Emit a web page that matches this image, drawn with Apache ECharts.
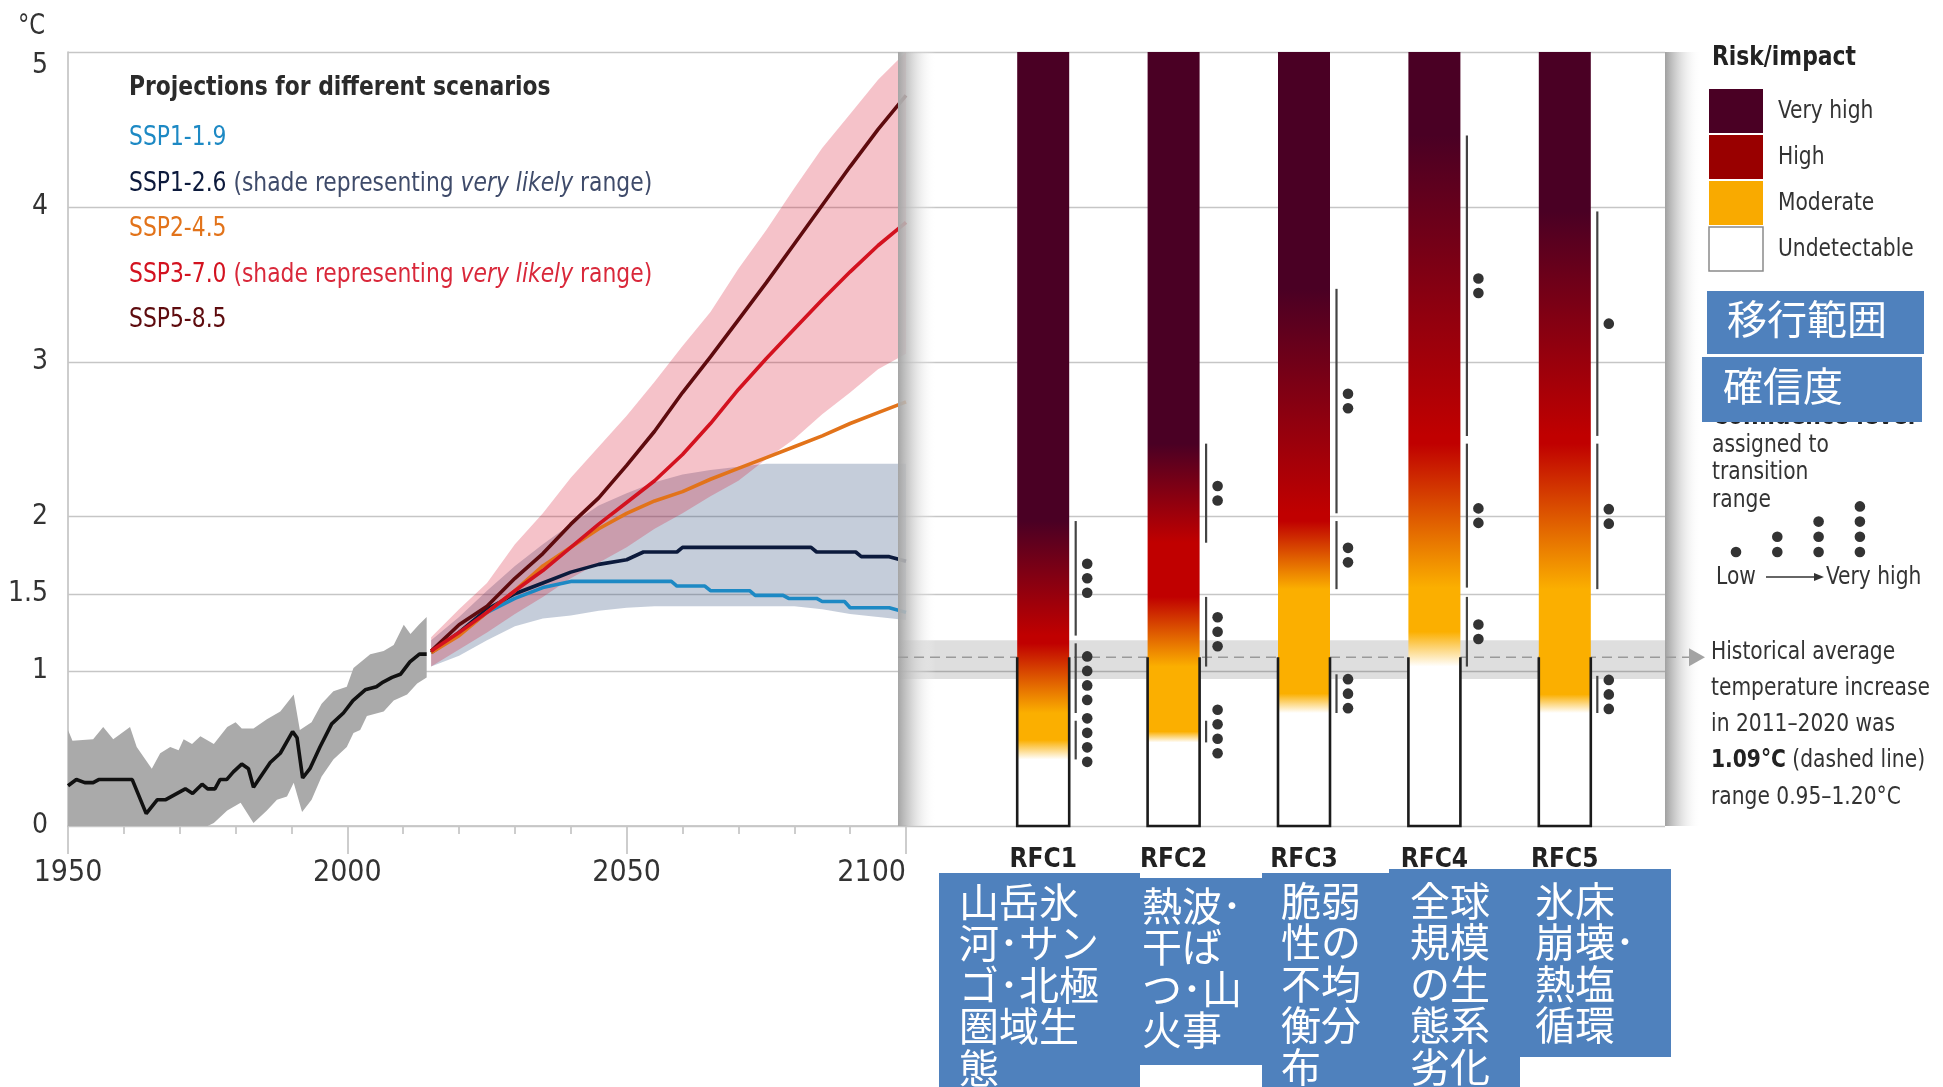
<!DOCTYPE html>
<html>
<head>
<meta charset="utf-8">
<script src="https://cdn.jsdelivr.net/npm/echarts@6/dist/echarts.min.js"></script>
<style>
  html, body { margin: 0; padding: 0; background: #ffffff; }
  #chart { width: 1943px; height: 1087px; }
</style>
</head>
<body>
<div id="chart"></div>
<script>
const FONT = "'Liberation Sans Narrow', 'DejaVu Sans Condensed', 'Roboto Condensed', Roboto, sans-serif";
const CJK = "'Noto Sans CJK JP', 'Noto Sans CJK SC', sans-serif";
const NARROW = 0.9; // horizontal squeeze for legend/annotation text

// ---- Observed global surface temperature change (°C), 1950–2014 ----
const histMean = [
  [1950,0.26],[1951.5,0.30],[1953,0.28],[1954.5,0.28],[1955.5,0.30],[1961.5,0.30],[1964,0.08],
  [1966,0.17],[1967.5,0.17],[1971,0.24],[1972.3,0.21],[1974,0.27],[1975,0.24],[1976.3,0.24],
  [1977.2,0.30],[1978.4,0.30],[1979.6,0.35],[1981.1,0.40],[1982.3,0.37],[1983.2,0.25],[1986.2,0.41],
  [1988,0.47],[1990.2,0.61],[1991,0.57],[1992,0.31],[1993.3,0.37],[1995.1,0.51],[1997.2,0.66],
  [1999.3,0.73],[2001,0.81],[2003.2,0.88],[2005.2,0.90],[2006.4,0.93],[2008,0.96],[2009.5,0.98],
  [2011.2,1.06],[2012.9,1.11],[2014.2,1.11]
];
const histHigh = [
  [1950,0.62],[1950.8,0.55],[1954.5,0.56],[1956.3,0.64],[1958.1,0.56],[1961.1,0.64],[1962.3,0.51],
  [1965,0.37],[1966.5,0.47],[1968.3,0.51],[1969.8,0.49],[1970.7,0.56],[1972.2,0.53],[1973.7,0.58],
  [1976.1,0.53],[1978.5,0.64],[1980,0.67],[1981.1,0.63],[1983.2,0.63],[1985.6,0.69],[1988,0.74],
  [1990.4,0.85],[1991.5,0.62],[1993.6,0.67],[1995.4,0.79],[1997.5,0.87],[1999.9,0.90],[2001.1,1.02],
  [2004.1,1.11],[2006.5,1.13],[2008.3,1.17],[2010.1,1.30],[2011.3,1.24],[2012.8,1.30],[2014.2,1.35]
];
const histLow = [
  [1950,0],[1975,0],[1976.1,0.02],[1978.5,0.10],[1980.9,0.15],[1983.2,0.02],[1985.6,0.10],
  [1987.4,0.17],[1989.2,0.19],[1990.4,0.28],[1991.9,0.09],[1993.6,0.17],[1995.4,0.32],[1997.5,0.43],
  [1999.9,0.51],[2001.1,0.60],[2002.3,0.62],[2003.5,0.71],[2006.5,0.74],[2008.3,0.81],[2010.7,0.85],
  [2012.5,0.92],[2014.2,0.96]
];

// ---- Scenario projections (°C), 2015–2100 ----
const projYears  = [2015,2020,2025,2030,2035,2040,2045,2050,2055,2060,2065,2070,2075,2080,2085,2090,2095,2100];
const ssp585     = [1.13,1.30,1.42,1.60,1.76,1.95,2.12,2.33,2.55,2.80,3.03,3.27,3.51,3.76,4.01,4.26,4.50,4.72];
const ssp370     = [1.13,1.25,1.38,1.52,1.65,1.80,1.95,2.09,2.23,2.40,2.60,2.82,3.02,3.21,3.40,3.58,3.75,3.90];
const ssp245     = [1.12,1.23,1.38,1.52,1.68,1.80,1.92,2.02,2.10,2.16,2.24,2.31,2.38,2.45,2.52,2.60,2.67,2.74];
const ssp370High = [1.22,1.40,1.57,1.82,2.02,2.25,2.45,2.65,2.87,3.10,3.32,3.60,3.85,4.12,4.38,4.60,4.82,5.00];
const ssp370Low  = [1.03,1.14,1.25,1.37,1.48,1.60,1.70,1.80,1.92,2.02,2.13,2.23,2.37,2.50,2.66,2.80,2.95,3.05];
const ssp126High = [1.20,1.35,1.52,1.68,1.82,1.95,2.07,2.15,2.22,2.27,2.30,2.32,2.34,2.34,2.34,2.34,2.34,2.34];
const ssp126Low  = [1.03,1.10,1.20,1.29,1.34,1.36,1.39,1.41,1.42,1.42,1.42,1.42,1.42,1.42,1.40,1.37,1.35,1.33];
const ssp119 = [
  [2015,1.12],[2020,1.24],[2025,1.38],[2030,1.47],[2035,1.54],[2040,1.58],[2058,1.58],[2059,1.55],
  [2064,1.55],[2065,1.52],[2072,1.52],[2073,1.49],[2078,1.49],[2079,1.47],[2084,1.47],[2085,1.45],
  [2089,1.45],[2090,1.41],[2097,1.41],[2100,1.38]
];
const ssp126 = [
  [2015,1.12],[2020,1.25],[2025,1.40],[2030,1.50],[2035,1.57],[2040,1.64],[2045,1.69],[2050,1.72],
  [2053,1.77],[2059,1.77],[2060,1.80],[2083,1.80],[2084,1.77],[2091,1.77],[2092,1.74],[2097,1.74],[2100,1.71]
];

// ---- Axis ticks ----
const yTicks = [0, 1, 1.5, 2, 3, 4, 5];

// ---- Reasons for concern: transition ranges [from °C, to °C, confidence dots] ----
const rfcNames = ['RFC1', 'RFC2', 'RFC3', 'RFC4', 'RFC5'];
const rfcJa = [
  '山岳氷\n河･サン\nゴ･北極\n圏域生\n態',
  '熱波･\n干ば\nつ･山\n火事',
  '脆弱\n性の\n不均\n衡分\n布',
  '全球\n規模\nの生\n態系\n劣化',
  '氷床\n崩壊･\n熱塩\n循環'
];
const rfcTransitions = [
  [[0.43,0.68,4],[0.73,1.18,4],[1.23,1.97,3]],
  [[0.54,0.68,4],[1.03,1.48,3],[1.83,2.47,2]],
  [[0.73,0.98,3],[1.53,1.97,2],[2.02,3.47,2]],
  [[1.03,1.48,2],[1.54,2.47,2],[2.52,4.46,2]],
  [[0.73,0.97,3],[1.53,2.47,2],[2.52,3.97,1]]
];
const riskTop = 5;
const recentWarming = 1.09;
const recentRange = [0.95, 1.20];

// ---- Styles ----
const C_VH = '#4a0024', C_HI = '#c00000', C_MO = '#fbaf00';
const legendRisk = [
  ['Very high', '#4a0024'], ['High', '#990000'], ['Moderate', '#f9aa00'], ['Undetectable', '#ffffff']
];
const sspStyles = [
  { name: 'SSP1-1.9', color: '#1d89c4', note: '' },
  { name: 'SSP1-2.6', color: '#0c1a3c', note: 'slate' },
  { name: 'SSP2-4.5', color: '#e2731a', note: '' },
  { name: 'SSP3-7.0', color: '#d3121f', note: 'red' },
  { name: 'SSP5-8.5', color: '#5e0b0e', note: '' }
];

const pairs = (ys, vs) => ys.map((y, i) => [y, vs[i]]);

function bandSeries(upper, lower, fill, z) {
  return {
    type: 'custom', xAxisIndex: 0, yAxisIndex: 0, z: z, silent: true,
    data: [[2000, 0]],
    renderItem: function (params, api) {
      const pts = upper.map(p => api.coord(p)).concat(lower.slice().reverse().map(p => api.coord(p)));
      return { type: 'polygon', shape: { points: pts }, style: { fill: fill } };
    }
  };
}

function lineSeries(data, color, z) {
  return {
    type: 'line', xAxisIndex: 0, yAxisIndex: 0, z: z, silent: true,
    data: data, showSymbol: false, symbol: 'none',
    lineStyle: { color: color, width: 3.6 }
  };
}

const series = [
  // horizontal grid lines across both panels
  {
    type: 'custom', xAxisIndex: 2, yAxisIndex: 2, z: 1, silent: true,
    data: yTicks.map(v => [0.5, v]),
    renderItem: function (params, api) {
      const cs = params.coordSys;
      const y = Math.round(api.coord([0, api.value(1)])[1]) + 0.5;
      return { type: 'line', shape: { x1: cs.x, y1: y, x2: cs.x + cs.width, y2: y },
               style: { stroke: '#c6c6c6', lineWidth: 1.4 } };
    }
  },
  bandSeries(histHigh, histLow, '#aaaaaa', 2),
  bandSeries(pairs(projYears, ssp126High), pairs(projYears, ssp126Low), 'rgba(40,70,120,0.27)', 2),
  bandSeries(pairs(projYears, ssp370High), pairs(projYears, ssp370Low), 'rgba(215,20,45,0.26)', 2),
  lineSeries(histMean, '#111111', 3),
  lineSeries(ssp119, sspStyles[0].color, 3),
  lineSeries(ssp126, sspStyles[1].color, 3),
  lineSeries(pairs(projYears, ssp245), sspStyles[2].color, 3),
  lineSeries(pairs(projYears, ssp585), sspStyles[4].color, 3),
  lineSeries(pairs(projYears, ssp370), sspStyles[3].color, 3),
  // 2011–2020 range band in the risk panel
  {
    type: 'custom', xAxisIndex: 3, yAxisIndex: 3, z: 4, silent: true,
    data: [[0.5, recentRange[0], recentRange[1]]],
    renderItem: function (params, api) {
      const cs = params.coordSys;
      const yLo = api.coord([0, api.value(1)])[1];
      const yHi = api.coord([0, api.value(2)])[1];
      return { type: 'rect', shape: { x: cs.x, y: yHi, width: cs.width, height: yLo - yHi },
               style: { fill: 'rgba(0,0,0,0.13)' } };
    }
  },
  // dashed line at the 2011–2020 mean, with arrow to its note
  {
    type: 'custom', xAxisIndex: 3, yAxisIndex: 3, z: 8, silent: true,
    data: [[0.5, recentWarming]],
    renderItem: function (params, api) {
      const cs = params.coordSys;
      const y = api.coord([0, api.value(1)])[1];
      const xEnd = cs.x + cs.width + 24;
      return { type: 'group', children: [
        { type: 'line', shape: { x1: cs.x, y1: y, x2: xEnd, y2: y },
          style: { stroke: '#9a9a9a', lineWidth: 1.6, lineDash: [10, 6] } },
        { type: 'polygon', shape: { points: [[xEnd, y - 9], [xEnd + 16, y], [xEnd, y + 9]] },
          style: { fill: '#a3a3a3' } }
      ] };
    }
  },
  // risk bars with transition ranges and confidence dots
  {
    type: 'custom', xAxisIndex: 4, yAxisIndex: 4, z: 9, silent: true,
    data: rfcNames.map((n, i) => [i, riskTop]),
    renderItem: function (params, api) {
      const i = api.value(0);
      const top = api.value(1);
      const base = api.coord([i, 0]);
      const cx = base[0], y0 = base[1];
      const yOf = t => api.coord([i, t])[1];
      const yTop = yOf(top);
      const w = 52, left = cx - w / 2, right = cx + w / 2;
      const tr = rfcTransitions[i];
      const off = t => (top - t) / top;
      const stops = [
        { offset: 0, color: C_VH },
        { offset: off(tr[2][1]), color: C_VH },
        { offset: off(tr[2][0]), color: C_HI },
        { offset: off(tr[1][1]), color: C_HI },
        { offset: off(tr[1][0]), color: C_MO },
        { offset: off((tr[0][0] + tr[0][1]) / 2), color: C_MO },
        { offset: off(tr[0][0]), color: '#ffffff' },
        { offset: 1, color: '#ffffff' }
      ];
      const yNow = yOf(recentWarming);
      const children = [
        { type: 'rect', shape: { x: left, y: yTop, width: w, height: y0 - yTop },
          style: { fill: { type: 'linear', x: 0, y: 0, x2: 0, y2: 1, colorStops: stops } } },
        { type: 'polyline', shape: { points: [[left, yNow], [left, y0], [right, y0], [right, yNow]] },
          style: { stroke: '#1b1b1b', lineWidth: 2.6, fill: 'none' } }
      ];
      tr.forEach(function (t) {
        const lo = t[0], hi = t[1], n = t[2];
        const lx = right + 6.5;
        const yh = yOf(hi), yl = yOf(lo);
        children.push({ type: 'line', shape: { x1: lx, y1: yh, x2: lx, y2: yl },
                        style: { stroke: '#444444', lineWidth: 2.2 } });
        const mid = (yh + yl) / 2;
        for (let k = 0; k < n; k++) {
          children.push({ type: 'circle', shape: { cx: right + 18, cy: mid + (k - (n - 1) / 2) * 14.5, r: 5.3 },
                          style: { fill: '#333333' } });
        }
      });
      return { type: 'group', children: children };
    }
  }
];

// ---- Overlay text and panels ----
const graphic = [];

function label(x, y, style) {
  graphic.push({ type: 'text', z: 10, x: x, y: y, scaleX: NARROW,
    style: Object.assign({ textVerticalAlign: 'middle', fontFamily: FONT }, style) });
}

// panel edge shading
graphic.push({
  type: 'rect', z: 6, silent: true, shape: { x: 898, y: 52, width: 38, height: 774 },
  style: { fill: { type: 'linear', x: 0, y: 0, x2: 1, y2: 0, colorStops: [
    { offset: 0, color: 'rgba(165,165,165,1)' }, { offset: 0.3, color: 'rgba(195,195,195,0.8)' },
    { offset: 1, color: 'rgba(255,255,255,0)' } ] } }
});
graphic.push({
  type: 'rect', z: 6, silent: true, shape: { x: 1665, y: 52, width: 36, height: 774 },
  style: { fill: { type: 'linear', x: 0, y: 0, x2: 1, y2: 0, colorStops: [
    { offset: 0, color: 'rgba(160,160,160,1)' }, { offset: 0.3, color: 'rgba(195,195,195,0.8)' },
    { offset: 1, color: 'rgba(255,255,255,0)' } ] } }
});

// unit label
label(18, 27, { text: '°C', fontSize: 28, fill: '#333' });

// scenario legend
label(129, 88, { text: 'Projections for different scenarios', fontSize: 27, fontWeight: 'bold', fill: '#2b2b2b' });
const noteColors = { slate: '#3f4b6a', red: '#d9283a' };
sspStyles.forEach(function (s, k) {
  let text = '{n|' + s.name + '}';
  const rich = { n: { fontSize: 27, fontFamily: FONT, fill: s.color } };
  if (s.note) {
    const c = noteColors[s.note];
    text += '{s| (shade representing }{i|very likely}{s| range)}';
    rich.s = { fontSize: 27, fontFamily: FONT, fill: c };
    rich.i = { fontSize: 27, fontFamily: FONT, fill: c, fontStyle: 'italic' };
  }
  label(129, 138 + k * 45.6, { text: text, rich: rich });
});

// risk legend
label(1712, 58, { text: 'Risk/impact', fontSize: 27, fontWeight: 'bold', fill: '#222' });
legendRisk.forEach(function (r, k) {
  const top = 89 + k * 46;
  graphic.push({ type: 'rect', z: 10, shape: { x: 1709, y: top, width: 54, height: 44 },
    style: { fill: r[1], stroke: k === 3 ? '#8a8a8a' : null, lineWidth: 1.5 } });
  label(1778, top + 22, { text: r[0], fontSize: 25, fill: '#333' });
});

// confidence legend
label(1712, 417, { text: 'Confidence level', fontSize: 27, fontWeight: 'bold', fill: '#222' });
['assigned to', 'transition', 'range'].forEach(function (t, k) {
  label(1712, 445 + k * 27.5, { text: t, fontSize: 25, fill: '#333' });
});
[1, 2, 3, 4].forEach(function (n, k) {
  for (let j = 0; j < n; j++) {
    graphic.push({ type: 'circle', z: 10, shape: { cx: 1736 + k * 41.3, cy: 552 - j * 15.2, r: 5.3 },
      style: { fill: '#333' } });
  }
});
label(1716, 577, { text: 'Low', fontSize: 25, fill: '#333' });
graphic.push({ type: 'line', z: 10, shape: { x1: 1766, y1: 577, x2: 1816, y2: 577 },
  style: { stroke: '#333', lineWidth: 1.5 } });
graphic.push({ type: 'polygon', z: 10, shape: { points: [[1814, 573], [1824, 577], [1814, 581]] },
  style: { fill: '#333' } });
label(1826, 577, { text: 'Very high', fontSize: 25, fill: '#333' });

// note on 2011–2020 warming
const noteLines = [
  '{r|Historical average}',
  '{r|temperature increase}',
  '{r|in 2011–2020 was}',
  '{b|1.09°C}{r| (dashed line)}',
  '{r|range 0.95–1.20°C}'
];
noteLines.forEach(function (t, k) {
  label(1711, 652 + k * 36.3, { text: t, rich: {
      r: { fontSize: 25, fontFamily: FONT, fill: '#333' },
      b: { fontSize: 25, fontFamily: FONT, fill: '#222', fontWeight: 'bold' } } });
});

// Japanese callouts
function callout(x, y, w, h, text, tx, ty, fs) {
  graphic.push({ type: 'rect', z: 12, shape: { x: x, y: y, width: w, height: h }, style: { fill: '#4f81bd' } });
  graphic.push({ type: 'text', z: 13, x: tx, y: ty,
    style: { text: text, fontSize: fs, fontFamily: CJK, fill: '#ffffff', lineHeight: 41.5, textVerticalAlign: 'top' } });
}
callout(1707, 291, 217, 63, '移行範囲', 1727, 298, 40);
callout(1702, 357, 220, 65, '確信度', 1723, 365, 40);
const boxes = [
  [939, 873, 201, 214, 959, 881],
  [1140, 878, 122, 187, 1142, 885],
  [1262, 873, 127, 214, 1281, 880],
  [1389, 869, 131, 218, 1410, 880],
  [1520, 869, 151, 188, 1535, 880]
];
boxes.forEach(function (b, k) { callout(b[0], b[1], b[2], b[3], rfcJa[k], b[4], b[5], 40); });

const option = {
  animation: false,
  backgroundColor: '#ffffff',
  grid: [
    { left: 68, top: 52, width: 838, height: 774 },
    { left: 68, top: 52, width: 838, height: 774 },
    { left: 68, top: 52, width: 1597, height: 774 },
    { left: 898, top: 52, width: 767, height: 774 },
    { left: 978, top: 52, width: 652, height: 774 }
  ],
  xAxis: [
    { gridIndex: 0, type: 'value', min: 1950, max: 2100, interval: 10,
      axisLine: { show: true, lineStyle: { color: '#bdbdbd', width: 1.5 } },
      axisTick: { show: true, length: 8, lineStyle: { color: '#bdbdbd', width: 1.5 } },
      axisLabel: { show: false }, splitLine: { show: false } },
    { gridIndex: 1, type: 'value', min: 1950, max: 2100, interval: 50,
      axisLine: { show: false },
      axisTick: { show: true, length: 28, lineStyle: { color: '#bdbdbd', width: 1.5 } },
      axisLabel: { show: true, fontSize: 30, fontFamily: FONT, color: '#333', margin: 32, alignMaxLabel: 'right',
                   formatter: function (v) { return String(v); } },
      splitLine: { show: false } },
    { gridIndex: 2, type: 'value', min: 0, max: 1, show: false },
    { gridIndex: 3, type: 'value', min: 0, max: 1, show: false },
    { gridIndex: 4, type: 'category', data: rfcNames,
      axisLine: { show: false }, axisTick: { show: false },
      axisLabel: { fontSize: 26, fontWeight: 'bold', fontFamily: FONT, color: '#222', margin: 21 } }
  ],
  yAxis: [
    { gridIndex: 0, type: 'value', min: 0, max: 5, interval: 0.5,
      axisLine: { show: true, lineStyle: { color: '#bdbdbd', width: 1.5 } },
      axisTick: { show: false }, splitLine: { show: false },
      axisLabel: { fontSize: 28, fontFamily: FONT, color: '#333', margin: 20,
        formatter: function (v) { if (yTicks.indexOf(v) < 0) return ''; return v === 5 ? '{t|5}' : String(v); },
        rich: { t: { fontSize: 28, fontFamily: FONT, color: '#333', padding: [28, 0, 0, 0] } } } },
    { gridIndex: 1, type: 'value', min: 0, max: 5, show: false },
    { gridIndex: 2, type: 'value', min: 0, max: 5, show: false },
    { gridIndex: 3, type: 'value', min: 0, max: 5, show: false },
    { gridIndex: 4, type: 'value', min: 0, max: 5, show: false }
  ],
  series: series,
  graphic: { elements: graphic }
};

const chart = echarts.init(document.getElementById('chart'));
chart.setOption(option);
</script>
</body>
</html>
